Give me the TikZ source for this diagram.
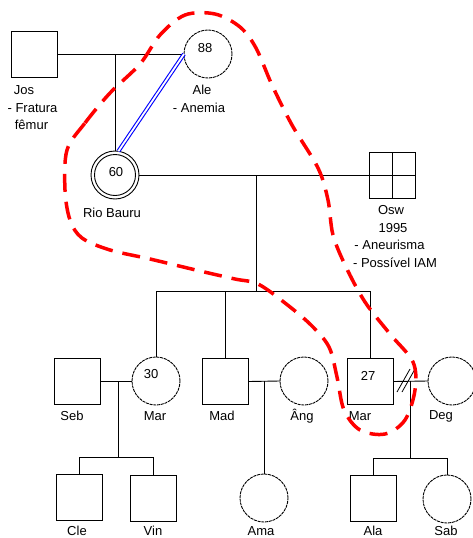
\documentclass[tikz,border=0pt]{standalone}
\usepackage{fontspec}
\setmainfont{Liberation Sans}
\begin{document}
\begin{tikzpicture}[x=1pt,y=-1pt,line width=0.9pt,
  male/.style={draw, rectangle, minimum size=46pt, inner sep=0pt, outer sep=0pt},
  female/.style={draw, circle, dash pattern=on 3pt off 0.8pt, minimum size=48pt, inner sep=0pt, outer sep=0pt},
  proband/.style={draw, circle, minimum size=48pt, inner sep=0pt, outer sep=0pt},
  lbl/.style={font=\fontsize{13}{17}\selectfont, inner sep=0pt},
  num/.style={font=\fontsize{13}{15}\selectfont, inner sep=0pt},
  bond/.style={draw=blue, double=white, double distance=1.8pt, line width=1.1pt},
  loop/.style={draw=red, line width=3.5pt, dash pattern=on 18pt off 10pt}]
\useasboundingbox (0,0) rectangle (472,538);

% generation I
\node[male] (jos) at (34.5,54) {};
\node[female] (ale) at (208,54) {};
\node[num] (n88) at (205,48) {88};
\node[lbl] (tjos1) at (24,90) {Jos};
\node[lbl] (tjos2) at (32.5,108) {- Fratura};
\node[lbl] (tjos3) at (31.5,125) {fêmur};
\node[lbl] (tale1) at (202,90) {Ale};
\node[lbl] (tale2) at (199,108) {- Anemia};

% generation II
\node[proband] (rio) at (115,175) {};
\draw (rio.center) circle (20.5);
\node[num] (n60) at (116,172) {60};
\node[lbl] (trio) at (112,213) {Rio Bauru};
\node[male] (osw) at (392.5,175) {};
\draw (osw.north) -- (osw.south) (osw.west) -- (osw.east);
\node[lbl] (tosw1) at (391,210) {Osw};
\node[lbl] (tosw2) at (393,228) {1995};
\node[lbl] (tosw3) at (389.5,245) {- Aneurisma};
\node[lbl] (tosw4) at (395,263) {- Possível IAM};

% generation III
\node[male] (seb) at (77.5,381) {};
\node[female] (mara) at (156,381) {};
\node[num] (n30) at (151,374) {30};
\node[male] (mad) at (225.5,381.5) {};
\node[female] (ang) at (304,381) {};
\node[male] (marb) at (370.5,381.5) {};
\node[num] (n27) at (368,376) {27};
\node[female] (deg) at (452,381) {};
\node[lbl] (tseb) at (72,416) {Seb};
\node[lbl] (tmara) at (155,416) {Mar};
\node[lbl] (tmad) at (222,416) {Mad};
\node[lbl] (tang) at (302,416) {Âng};
\node[lbl] (tmarb) at (360,416) {Mar};
\node[lbl] (tdeg) at (441,416) {Deg};

% generation IV
\node[male] (cle) at (79,497) {};
\node[male] (vin) at (153,498.5) {};
\node[female] (ama) at (264,498) {};
\node[male] (ala) at (373.5,498) {};
\node[female] (sab) at (447,499) {};
\node[lbl] (tcle) at (77,531) {Cle};
\node[lbl] (tvin) at (153,531) {Vin};
\node[lbl] (tama) at (261,531) {Ama};
\node[lbl] (tala) at (373,531) {Ala};
\node[lbl] (tsab) at (446,531) {Sab};

% connectors generation I
\coordinate (j1) at (115,54);
\draw (jos.east) -- (ale.west);
\draw (j1) -- (rio.north);
\draw[bond] (rio.82) -- (ale.west);

% generation II
\coordinate (r1) at (256,175);
\coordinate (r2) at (256,291);
\coordinate (s1) at (156,291);
\coordinate (s2) at (225.5,291);
\coordinate (s3) at (370.5,291);
\draw (rio.east) -- (osw.west);
\draw (r1) -- (r2);
\draw (s1) -- (s3);
\draw (s1) -- (mara.north);
\draw (s2) -- (mad.north);
\draw (s3) -- (marb.north);

% Seb + Mar
\coordinate (a1) at (118,381);
\coordinate (a2) at (118,457);
\coordinate (a3) at (79,457);
\coordinate (a4) at (153,457);
\draw (seb.east) -- (mara.west);
\draw (a1) -- (a2);
\draw (a3) -- (a4);
\draw (a3) -- (cle.north);
\draw (a4) -- (vin.north);

% Mad + Ang
\coordinate (b1) at (264,381);
\draw (mad.east) -- (ang.west);
\draw (b1) -- (ama.north);

% Mar + Deg (separated)
\coordinate (c1) at (410,381);
\coordinate (c2) at (410,458);
\coordinate (c3) at (373.5,458);
\coordinate (c4) at (447,458);
\coordinate (d1) at (397,392);
\coordinate (d2) at (410,369);
\coordinate (d3) at (402,392);
\coordinate (d4) at (415,369);
\draw (marb.east) -- (deg.west);
\draw[line width=0.8pt] (d1) -- (d2) (d3) -- (d4);
\draw (c1) -- (c2);
\draw (c3) -- (c4);
\draw (c3) -- (ala.north);
\draw (c4) -- (sab.north);

% red dashed loop
\draw[loop] plot[smooth cycle, tension=0.55] coordinates {
  (67,150) (85,123) (110,93) (140,64) (160,35) (185,15) (215,14) (240,27)
  (256,48) (272,85) (292,125) (318,168) (328,200) (333,235) (346,267)
  (365,302) (390,334) (413,362) (415,390) (405,420) (385,434) (360,430)
  (344,410) (337,377) (329,347) (311,325) (285,303) (258,284) (235,279)
  (200,271) (150,259) (110,250) (82,238) (70,220) (65,190)};
\end{tikzpicture}
\end{document}
